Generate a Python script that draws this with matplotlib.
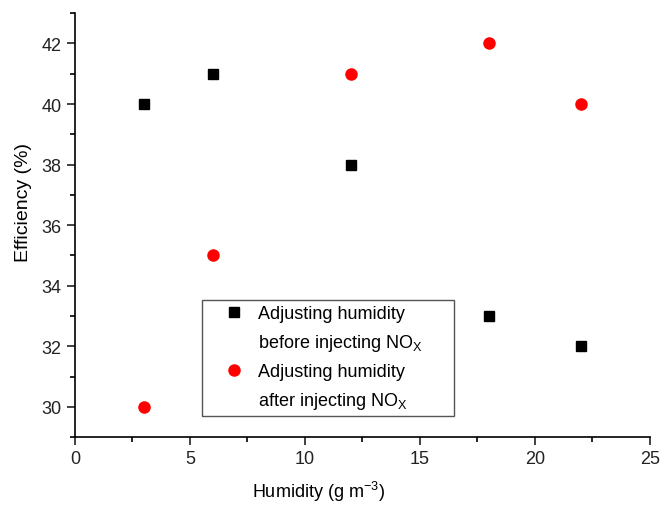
import matplotlib
matplotlib.use("Agg")
import matplotlib.pyplot as plt
from matplotlib.lines import Line2D
from matplotlib.ticker import MultipleLocator

plt.rcParams['font.family'] = ['Liberation Sans', 'DejaVu Sans']
plt.rcParams['mathtext.fontset'] = 'custom'
plt.rcParams['mathtext.rm'] = 'Liberation Sans'
plt.rcParams['mathtext.it'] = 'Liberation Sans:italic'

humidity = [3, 6, 12, 18, 22]
eff_before = [40, 41, 38, 33, 32]
eff_after = [30, 35, 41, 42, 40]

label_lines = ["Adjusting humidity", "before injecting NO$_\\mathrm{X}$",
               "Adjusting humidity", "after injecting NO$_\\mathrm{X}$"]

fig = plt.figure(figsize=(6.61, 5.06), dpi=100)
ax = fig.add_axes([0.1135, 0.134, 0.8695, 0.838])

h1, = ax.plot(humidity, eff_before, 's', color='black', markersize=7)
h2, = ax.plot(humidity, eff_after, 'o', color='red', markersize=8)

ax.set_xlim(0, 25)
ax.set_ylim(29, 43)
ax.xaxis.set_major_locator(MultipleLocator(5))
ax.xaxis.set_minor_locator(MultipleLocator(2.5))
ax.yaxis.set_major_locator(MultipleLocator(2))
ax.yaxis.set_minor_locator(MultipleLocator(1))

for s in ['top', 'right']:
    ax.spines[s].set_visible(False)
for s in ['left', 'bottom']:
    ax.spines[s].set_linewidth(1.2)

ax.tick_params(which='major', direction='out', length=6, width=1.2, labelsize=13, colors='#222222')
ax.tick_params(which='minor', direction='out', length=3.5, width=1.2)

ax.set_xlabel("Humidity (g m$^{-3}$)", fontsize=13)
ax.xaxis.set_label_coords(0.423, -0.098)
ax.set_ylabel("Efficiency (%)", fontsize=14)
ax.yaxis.set_label_coords(-0.075, 0.557)

blank = Line2D([], [], linestyle='none', marker=None)
leg = ax.legend([h1, blank, h2, blank], label_lines,
                loc='lower left', bbox_to_anchor=(0.221, 0.0495, 0.438, 0.283),
                mode='expand', fontsize=13, fancybox=False, framealpha=1,
                edgecolor='#555555', handlelength=2.95, handletextpad=-0.15,
                labelspacing=0.55, borderaxespad=0, borderpad=0.3)
leg.get_frame().set_linewidth(1.0)

fig.savefig("out.png", dpi=100)
